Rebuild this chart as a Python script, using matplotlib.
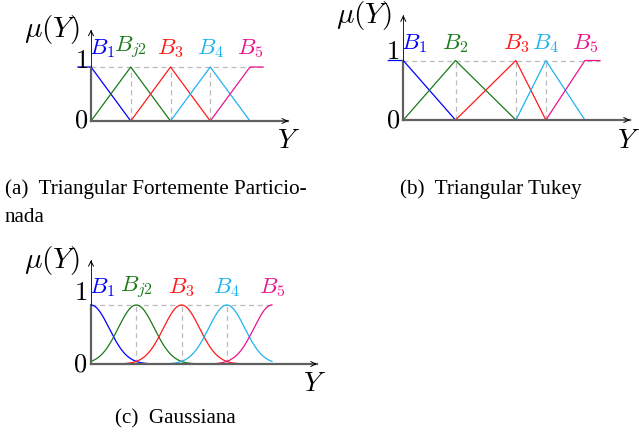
import matplotlib
matplotlib.use('Agg')
import matplotlib.pyplot as plt
import numpy as np

plt.rcParams['mathtext.fontset'] = 'cm'

# Data
centers_a = [0, 1, 2, 3, 4]
labels_a = ['$B_1$', '$B_{j2}$', '$B_3$', '$B_4$', '$B_5$']
centers_b = [0, 1.15, 2.48, 3.14, 4]
labels_b = ['$B_1$', '$B_2$', '$B_3$', '$B_4$', '$B_5$']
centers_c = [0, 1, 2, 3, 4]
labels_c = ['$B_1$', '$B_{j2}$', '$B_3$', '$B_4$', '$B_5$']
sigma_c = 0.4
captions = ['(a)  Triangular Fortemente Particio-', 'nada',
            '(b)  Triangular Tukey', '(c)  Gaussiana']

colors = ['#0000ff', '#1a7a1a', '#ff1a1a', '#1eb4f0', '#ec148c']
W, H = 639, 443

fig = plt.figure(figsize=(W / 100, H / 100), dpi=100)


def panel(ox, oy, ux, uy, box):
    left, top, right, bottom = box
    ax = fig.add_axes([left / W, 1 - bottom / H, (right - left) / W, (bottom - top) / H])
    ax.set_xlim((left - ox) / ux, (right - ox) / ux)
    ax.set_ylim((oy - bottom) / uy, (oy - top) / uy)
    ax.axis('off')
    return ax


def frame(ax, xend, ytop, xshoulder, labels, centers, ylab, mu_pos, one_y, y_pos):
    gray = '#bbbbbb'
    # guide lines
    ax.plot([0, centers[-1] + xshoulder], [1, 1], ls=(0, (4, 3)), color=gray, lw=0.9, zorder=1)
    for c in centers[1:-1]:
        ax.plot([c, c], [0, 1], ls=(0, (4, 3)), color=gray, lw=0.9, zorder=1)
    # axes
    ax.plot([0, xend], [0, 0], color='#606060', lw=1.6, zorder=4)
    ax.plot([0, 0], [0, 1], color='#606060', lw=1.6, zorder=4)
    ax.plot([0, 0], [1, ytop], color='#222222', lw=0.7, zorder=4)
    ax.annotate('', xy=(xend, 0), xytext=(xend - 0.05, 0),
                arrowprops=dict(arrowstyle='->', color='k', lw=0.7, shrinkA=0, shrinkB=0,
                                mutation_scale=9), zorder=5)
    ax.annotate('', xy=(0, ytop), xytext=(0, ytop - 0.05),
                arrowprops=dict(arrowstyle='->', color='k', lw=0.7, shrinkA=0, shrinkB=0,
                                mutation_scale=9), zorder=5)
    ax.text(mu_pos[0], mu_pos[1], r'$\mu(Y)$', fontsize=21, ha='right', va='center')
    ax.text(-0.08, one_y, '$1$', fontsize=19, ha='right', va='center')
    ax.text(-0.08, 0.0, '$0$', fontsize=19, ha='right', va='center')
    ax.text(y_pos[0], y_pos[1], '$Y$', fontsize=20, ha='center', va='center')
    for i, (lab, c) in enumerate(zip(labels, centers)):
        ax.text(c if i else -0.05, ylab, lab, fontsize=16.5, color=colors[i],
                ha='center' if i else 'left', va='center')


def triangles(ax, centers, shoulder):
    n = len(centers)
    for i in range(n):
        if i == 0:
            xs = [centers[0] - shoulder, centers[0], centers[1]]
            ys = [1, 1, 0]
        elif i == n - 1:
            xs = [centers[i - 1], centers[i], centers[i] + shoulder]
            ys = [0, 1, 1]
        else:
            xs = [centers[i - 1], centers[i], centers[i + 1]]
            ys = [0, 1, 0]
        ax.plot(xs, ys, color=colors[i], lw=0.9, zorder=3)


# (a)
ax_a = panel(91, 121, 39.75, 54, (0, 0, 320, 160))
triangles(ax_a, centers_a, 0.33)
frame(ax_a, 4.96, 1.69, 0.33, labels_a, centers_a, 1.35, (-0.27, 1.69), 1.12, (4.96, -0.35))

# (b)
ax_b = panel(403.3, 120, 45.4, 59.5, (320, 0, 639, 160))
triangles(ax_b, centers_b, 0.33)
frame(ax_b, 4.99, 1.76, 0.33, labels_b, centers_b, 1.29, (-0.24, 1.75), 1.14, (4.97, -0.34))

# (c)
ax_c = panel(91, 364, 45.25, 59, (0, 240, 330, 400))
for i, c in enumerate(centers_c):
    x = np.linspace(max(0, c - 1.5), min(4, c + 1.5), 200)
    ax_c.plot(x, np.exp(-(x - c) ** 2 / (2 * sigma_c ** 2)), color=colors[i], lw=0.9, zorder=3)
frame(ax_c, 4.99, 1.76, 0.0, labels_c, centers_c, 1.29, (-0.24, 1.75), 1.2, (4.95, -0.32))

# captions
cap_font = dict(family='Liberation Serif', fontsize=15.2, va='baseline')
fig.text(5 / W, 1 - 194 / H, captions[0], ha='left', **cap_font)
fig.text(5 / W, 1 - 222 / H, captions[1], ha='left', **cap_font)
fig.text(400 / W, 1 - 194 / H, captions[2], ha='left', **cap_font)
fig.text(175 / W, 1 - 423 / H, captions[3], ha='center', **cap_font)

fig.savefig('out.png', dpi=100)
